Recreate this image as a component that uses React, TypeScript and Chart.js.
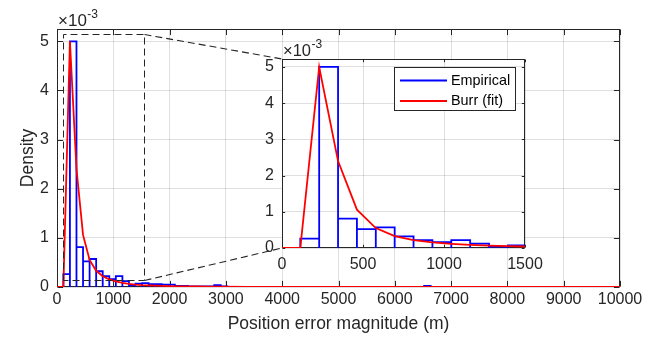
import React, { useEffect, useRef } from 'react';
import { Chart, registerables } from 'chart.js';

Chart.register(...registerables);
Chart.defaults.font.family = '"Liberation Sans", Arial, Helvetica, sans-serif';

// ---------- data (density values shown in units of 1e-3) ----------
const binStart = 113;
const binWidth = 116.5;
const empiricalDensity = [
  0.26, 5.0, 0.81, 0.52, 0.57, 0.32, 0.22, 0.16, 0.22, 0.12,
  0.04, 0.07, 0.08, 0.06, 0.06, 0.05, 0.05, 0.02, 0.02, 0.01,
  0.01, 0.01, 0.01, 0.04, 0.01, 0, 0, 0, 0, 0,
  0, 0, 0, 0, 0, 0, 0, 0, 0, 0,
  0, 0, 0, 0, 0, 0, 0, 0, 0, 0,
  0, 0, 0, 0, 0, 0.02, 0, 0, 0, 0,
  0, 0, 0, 0, 0, 0, 0, 0, 0, 0,
  0, 0, 0, 0, 0, 0, 0, 0, 0, 0,
  0, 0, 0, 0, 0,
];
const burrX = [
  0, 113, 229.5, 346, 462.5, 579, 695.5, 812, 928.5, 1045, 1161.5, 1278, 1394.5,
  1511, 1627.5, 1744, 1860.5, 1977, 2210, 2443, 2676, 2909, 3375, 3841, 4500,
  5000, 6000, 7000, 8000, 9000, 10000,
];
const burrY = [
  0, 0, 5.0, 2.4, 1.06, 0.55, 0.33, 0.22, 0.155, 0.115, 0.085, 0.065, 0.05,
  0.04, 0.033, 0.027, 0.023, 0.019, 0.014, 0.011, 0.008, 0.006, 0.004, 0.003, 0.002,
  0.0015, 0.001, 0.0006, 0.0004, 0.0003, 0.0002,
];
const mainXTicks = [0, 1000, 2000, 3000, 4000, 5000, 6000, 7000, 8000, 9000, 10000];
const mainYTicks = [0, 1, 2, 3, 4, 5];
const insetXTicks = [0, 500, 1000, 1500];
const insetYTicks = [0, 1, 2, 3, 4, 5];
const zoomBox = { xMin: 110, xMax: 1550, yMin: 0.14, yMax: 5.14 };
const seriesLabels = ['Empirical', 'Burr (fit)'];
const exponentBase = '\u00d710';
const exponentPower = '-3';

// ---------- styles ----------
const AX = '#262626';
const GRID = 'rgba(38,38,38,0.15)';
const BLUE = '#0000ff';
const RED = '#ff0000';
const TICK_FONT = 16;
const FONT = '"Liberation Sans", Arial, sans-serif';

function histogramPoints() {
  const pts: { x: number; y: number }[] = [{ x: 0, y: 0 }, { x: binStart, y: 0 }];
  empiricalDensity.forEach((h, i) => {
    const a = binStart + i * binWidth;
    const b = a + binWidth;
    pts.push({ x: a, y: h }, { x: b, y: h }, { x: b, y: 0 });
  });
  return pts;
}
function burrPoints() {
  return burrX.map((x, i) => ({ x, y: burrY[i] }));
}

function makeDatasets(lw: number) {
  return [
    {
      label: seriesLabels[0],
      data: histogramPoints(),
      borderColor: BLUE,
      backgroundColor: BLUE,
      borderWidth: lw,
      pointRadius: 0,
      tension: 0,
      fill: false,
      order: 2,
    },
    {
      label: seriesLabels[1],
      data: burrPoints(),
      borderColor: RED,
      backgroundColor: RED,
      borderWidth: lw,
      pointRadius: 0,
      tension: 0,
      fill: false,
      order: 1,
    },
  ];
}

// box + inward ticks (below data) + exponent label
function boxPlugin(tickLen: number, expFont: number) {
  return {
    id: 'matlabBox',
    beforeDatasetsDraw(chart: any) {
      const { ctx, chartArea: a, scales } = chart;
      const L = Math.round(a.left) + 0.5;
      const R = Math.round(a.right) - 0.5;
      const T = Math.round(a.top) + 0.5;
      const B = Math.round(a.bottom) - 0.5;
      ctx.save();
      ctx.strokeStyle = AX;
      ctx.lineWidth = 1;
      ctx.setLineDash([]);
      ctx.beginPath();
      scales.x.ticks.forEach((t: any) => {
        const px = Math.round(scales.x.getPixelForValue(t.value)) + 0.5;
        ctx.moveTo(px, B);
        ctx.lineTo(px, B - tickLen);
        ctx.moveTo(px, T);
        ctx.lineTo(px, T + tickLen);
      });
      scales.y.ticks.forEach((t: any) => {
        const py = Math.round(scales.y.getPixelForValue(t.value)) + 0.5;
        ctx.moveTo(L, py);
        ctx.lineTo(L + tickLen, py);
        ctx.moveTo(R, py);
        ctx.lineTo(R - tickLen, py);
      });
      ctx.stroke();
      ctx.strokeRect(L, T, R - L, B - T);
      ctx.restore();
    },
    afterDraw(chart: any) {
      const { ctx, chartArea: a } = chart;
      ctx.save();
      ctx.fillStyle = AX;
      ctx.textBaseline = 'alphabetic';
      ctx.textAlign = 'left';
      ctx.font = `${expFont}px ${FONT}`;
      const x0 = a.left + 1;
      ctx.fillText(exponentBase, x0, a.top - 3);
      const w = ctx.measureText(exponentBase).width;
      ctx.font = `${Math.round(expFont * 0.72)}px ${FONT}`;
      ctx.fillText(exponentPower, x0 + w + 0.5, a.top - 11);
      ctx.restore();
    },
  };
}

const whiteAreaPlugin = {
  id: 'whiteArea',
  beforeDraw(chart: any) {
    const { ctx, chartArea: a } = chart;
    ctx.save();
    ctx.fillStyle = '#ffffff';
    ctx.fillRect(a.left, a.top, a.right - a.left, a.bottom - a.top);
    ctx.restore();
  },
};

const legendPlugin = {
  id: 'insetLegend',
  afterDraw(chart: any) {
    const { ctx, chartArea: a } = chart;
    const w = 121;
    const h = 43;
    const right = Math.round(a.right) - 10;
    const left = right - w;
    const top = Math.round(a.top) + 8;
    ctx.save();
    ctx.fillStyle = '#ffffff';
    ctx.fillRect(left, top, w, h);
    ctx.strokeStyle = AX;
    ctx.lineWidth = 1;
    ctx.strokeRect(left + 0.5, top + 0.5, w, h);
    ctx.font = `14.4px ${FONT}`;
    ctx.textBaseline = 'middle';
    ctx.textAlign = 'left';
    chart.data.datasets.forEach((ds: any, i: number) => {
      const y = top + 13.5 + i * 20.5;
      ctx.strokeStyle = ds.borderColor;
      ctx.lineWidth = 1.8;
      ctx.beginPath();
      ctx.moveTo(left + 6, y);
      ctx.lineTo(left + 53, y);
      ctx.stroke();
      ctx.fillStyle = '#000000';
      ctx.fillText(ds.label, left + 57, y + 0.5);
    });
    ctx.restore();
  },
};

function zoomPlugin(getInset: () => any) {
  return {
    id: 'zoomBox',
    afterDatasetsDraw(chart: any) {
      const { ctx, scales } = chart;
      const snap = (v: number) => Math.round(v) + 0.5;
      const x0 = snap(scales.x.getPixelForValue(zoomBox.xMin));
      const x1 = snap(scales.x.getPixelForValue(zoomBox.xMax));
      const y0 = snap(scales.y.getPixelForValue(zoomBox.yMin));
      const y1 = snap(scales.y.getPixelForValue(zoomBox.yMax));
      const inset = getInset();
      ctx.save();
      ctx.strokeStyle = '#262626';
      ctx.lineWidth = 1;
      ctx.setLineDash([7, 4]);
      ctx.beginPath();
      ctx.moveTo(x0, y0);
      ctx.lineTo(x0, y1);
      ctx.lineTo(x1, y1);
      ctx.lineTo(x1, y0);
      ctx.lineTo(x0, y0);
      ctx.stroke();
      if (inset && inset.chartArea) {
        const ia = inset.chartArea;
        ctx.lineWidth = 1.1;
        ctx.beginPath();
        ctx.moveTo(x1, y1);
        ctx.lineTo(ia.left, ia.top);
        ctx.stroke();
        ctx.beginPath();
        ctx.moveTo(x1, y0);
        ctx.lineTo(ia.left, ia.bottom);
        ctx.stroke();
      }
      ctx.restore();
    },
  };
}

function axisCommon(ticksArr: number[], padding: number) {
  return {
    type: 'linear' as const,
    afterBuildTicks: (s: any) => {
      s.ticks = ticksArr.map((v) => ({ value: v }));
    },
    grid: { color: GRID, drawTicks: false, lineWidth: 1 },
    border: { display: false },
    ticks: {
      padding,
      color: AX,
      font: { size: TICK_FONT },
      maxRotation: 0,
      autoSkip: false,
      callback: (v: any) => String(v),
    },
  };
}

export default function App() {
  const mainRef = useRef<HTMLCanvasElement>(null);
  const insetRef = useRef<HTMLCanvasElement>(null);

  useEffect(() => {
    document.body.style.margin = '0';
    const insetChart = new Chart(insetRef.current as HTMLCanvasElement, {
      type: 'line',
      data: { datasets: makeDatasets(1.8) as any },
      options: {
        animation: false,
        responsive: false,
        events: [],
        layout: { padding: { left: 282 - 40, top: 59, right: 656 - 525, bottom: 337 - 248 - 40 } },
        plugins: { legend: { display: false }, tooltip: { enabled: false } },
        scales: {
          x: {
            ...axisCommon(insetXTicks, 7),
            min: 0,
            max: 1500,
            afterFit: (s: any) => {
              s.height = 40;
            },
          },
          y: {
            ...axisCommon(insetYTicks, 8),
            min: 0,
            max: 5.22,
            afterFit: (s: any) => {
              s.width = 40;
            },
          },
        } as any,
      },
      plugins: [whiteAreaPlugin, boxPlugin(2.7, 16.5), legendPlugin],
    });

    const mainChart = new Chart(mainRef.current as HTMLCanvasElement, {
      type: 'line',
      data: { datasets: makeDatasets(1.8) as any },
      options: {
        animation: false,
        responsive: false,
        events: [],
        layout: { padding: { left: 0, top: 29, right: 36, bottom: 0 } },
        plugins: { legend: { display: false }, tooltip: { enabled: false } },
        scales: {
          x: {
            ...axisCommon(mainXTicks, 3),
            min: 0,
            max: 10000,
            afterFit: (s: any) => {
              s.height = 50;
            },
            title: {
              display: true,
              text: 'Position error magnitude (m)',
              color: AX,
              font: { size: 17.5 },
              padding: { top: 0, bottom: 2.5 },
            },
          },
          y: {
            ...axisCommon(mainYTicks, 8),
            min: 0,
            max: 5.25,
            afterFit: (s: any) => {
              s.width = 57;
            },
            title: {
              display: true,
              text: 'Density',
              color: AX,
              font: { size: 17.5 },
              padding: { top: 18, bottom: 0 },
            },
          },
        } as any,
      },
      plugins: [zoomPlugin(() => insetChart), boxPlugin(5.6, 17)],
    });

    return () => {
      mainChart.destroy();
      insetChart.destroy();
    };
  }, []);

  return (
    <div style={{ position: 'relative', width: 656, height: 337, background: '#ffffff', overflow: 'hidden' }}>
      <canvas ref={mainRef} width={656} height={337} style={{ position: 'absolute', left: 0, top: 0 }} />
      <canvas ref={insetRef} width={656} height={337} style={{ position: 'absolute', left: 0, top: 0 }} />
    </div>
  );
}
